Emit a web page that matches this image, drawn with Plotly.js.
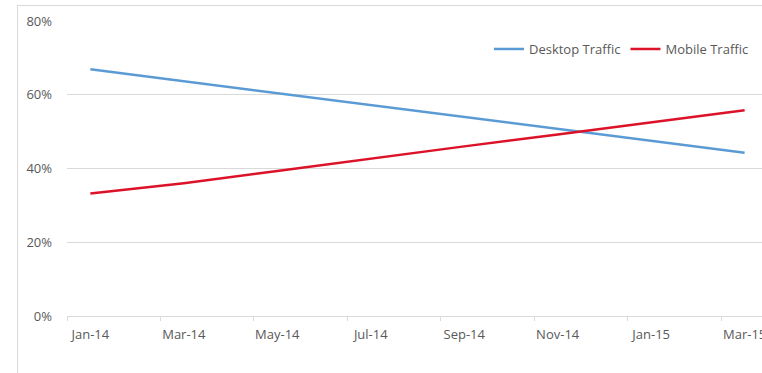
<!DOCTYPE html>
<html>
<head>
<meta charset="utf-8">
<script src="https://cdn.plot.ly/plotly-3.0.1.min.js"></script>
<style>
  html, body { margin: 0; padding: 0; background: #ffffff; width: 762px; height: 373px; overflow: hidden; position: relative; }
  #frame { position: absolute; left: 17px; top: 5px; width: 820px; height: 420px; border-left: 1px solid #d9d9d9; border-top: 1px solid #d9d9d9; }
  #chart { position: absolute; left: 0; top: 0; width: 800px; height: 373px; }
</style>
</head>
<body>
<div id="frame"></div>
<div id="chart"></div>
<script>
// Labels (two-month steps)
var months = ['Jan-14', 'Mar-14', 'May-14', 'Jul-14', 'Sep-14', 'Nov-14', 'Jan-15', 'Mar-15'];
// Share of traffic, percent
var desktopTraffic = [66.9, 63.7, 60.5, 57.2, 54.0, 50.8, 47.6, 44.3];
var mobileTraffic  = [33.2, 36.0, 39.3, 42.7, 46.0, 49.2, 52.4, 55.8];
var yTicks = [0, 20, 40, 60, 80];

var idx = months.map(function (m, i) { return i; });
var boundaries = months.map(function (m, i) { return i - 0.25; });

var fontFamily = '"Open Sans", "Liberation Sans", sans-serif';

var traces = [
  {
    x: idx, y: desktopTraffic, name: 'Desktop Traffic', type: 'scatter', mode: 'lines',
    line: { color: '#5B9BD5', width: 2.5 }, hoverinfo: 'skip'
  },
  {
    x: idx, y: mobileTraffic, name: 'Mobile Traffic', type: 'scatter', mode: 'lines',
    line: { color: '#DC1328', width: 2.5 }, hoverinfo: 'skip'
  }
];

var layout = {
  width: 800, height: 373,
  margin: { l: 67, r: 32, t: 21, b: 57, pad: 0 },
  paper_bgcolor: 'rgba(0,0,0,0)',
  plot_bgcolor: 'rgba(0,0,0,0)',
  font: { family: fontFamily, size: 13, color: '#595959' },
  showlegend: true,
  legend: {
    orientation: 'h', x: 0.98, xanchor: 'right', y: 0.905, yanchor: 'middle',
    bgcolor: 'rgba(0,0,0,0)', font: { family: fontFamily, size: 13, color: '#595959' },
    itemwidth: 30, traceorder: 'normal', tracegroupgap: 0
  },
  xaxis: {
    type: 'linear',
    range: [-0.25, 7.25],
    tickmode: 'array', tickvals: idx, ticktext: months,
    ticks: '', showgrid: false, zeroline: false,
    showline: true, linecolor: '#d9d9d9', linewidth: 1,
    ticklabelstandoff: 6,
    minor: { tickmode: 'array', tickvals: boundaries, ticks: 'outside', ticklen: 4, tickcolor: '#d9d9d9', tickwidth: 1, showgrid: false },
    fixedrange: true
  },
  yaxis: {
    range: [0, 80],
    tickmode: 'array', tickvals: yTicks, ticktext: yTicks.map(function (v) { return v + '%'; }),
    ticks: '', showgrid: true, gridcolor: '#d9d9d9', gridwidth: 1,
    zeroline: false, showline: false,
    ticklabelstandoff: 14,
    fixedrange: true
  }
};

Plotly.newPlot('chart', traces, layout, { staticPlot: true, displayModeBar: false });
</script>
</body>
</html>
